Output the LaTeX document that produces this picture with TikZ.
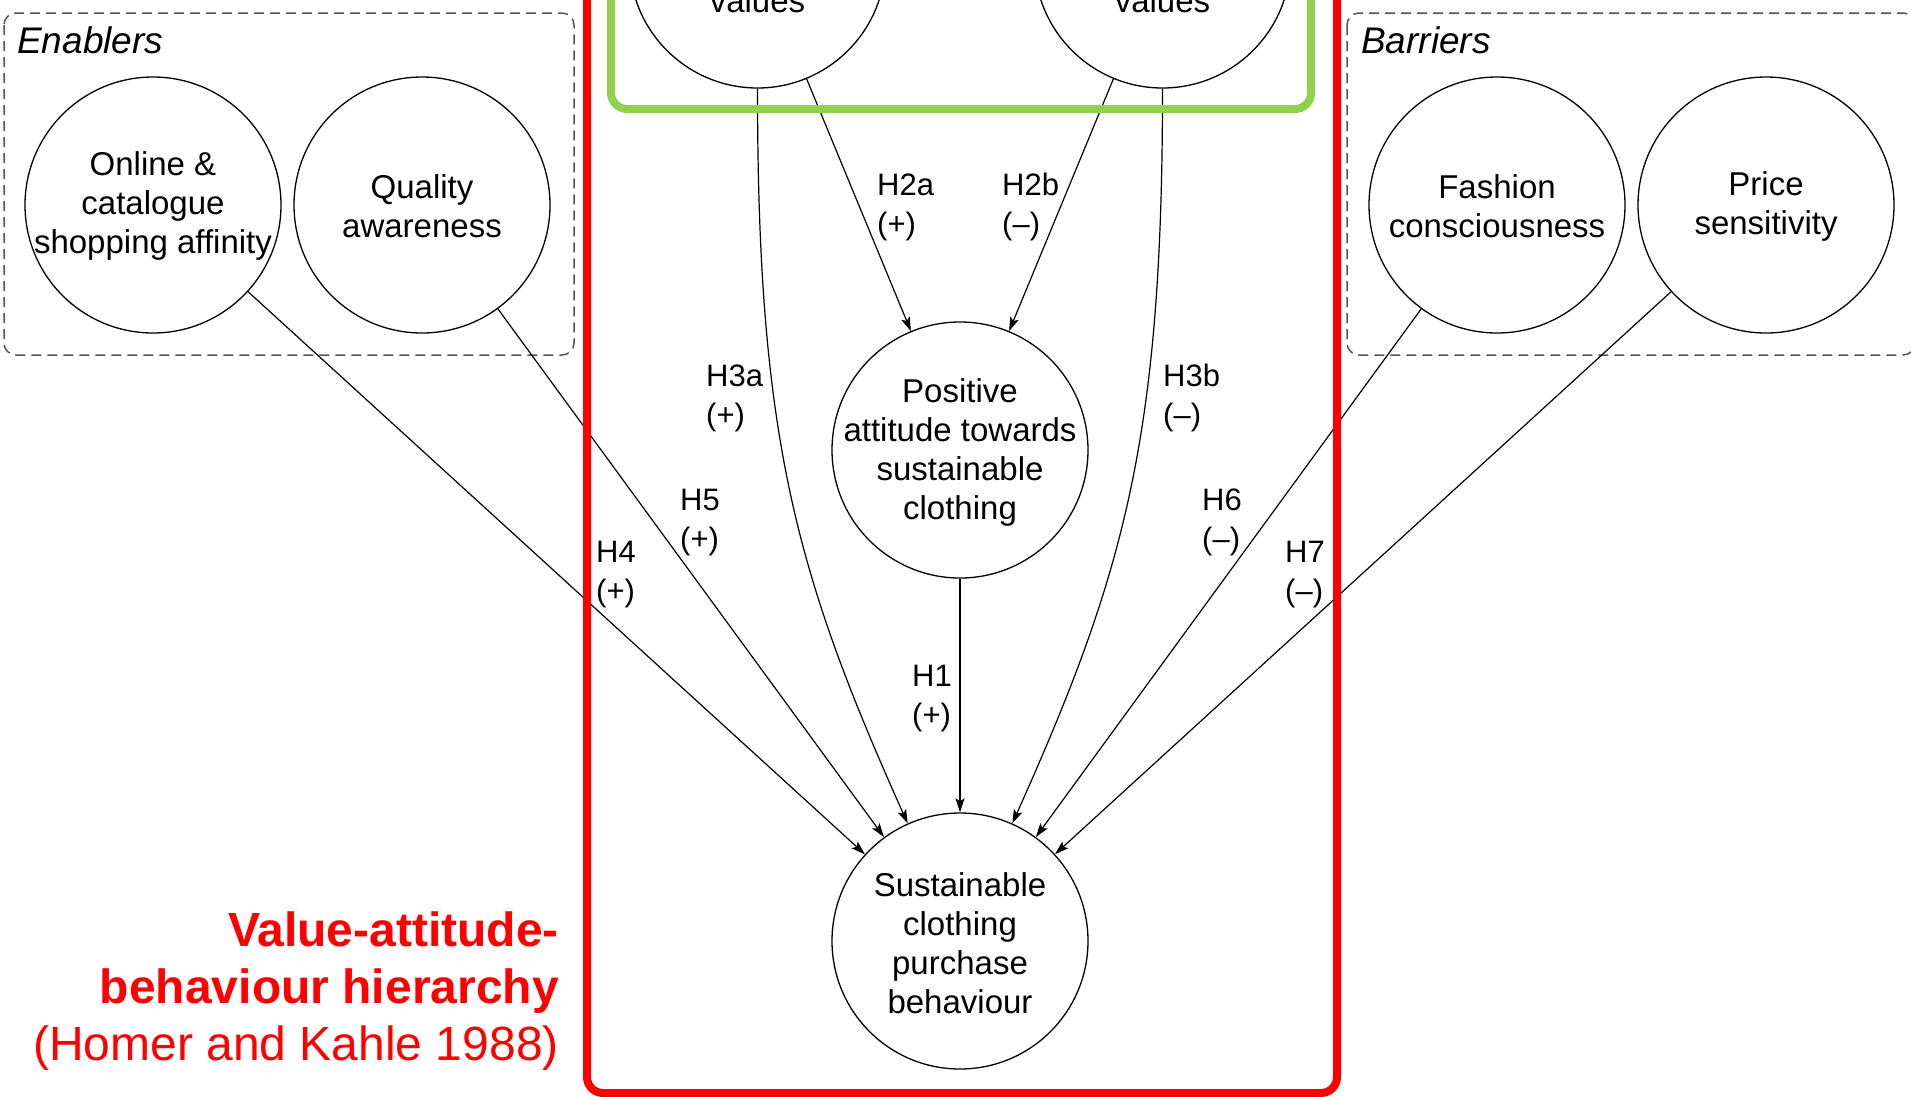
\documentclass[tikz,border=0pt]{standalone}
\usepackage{fontspec}
\setmainfont{Liberation Sans}
\usetikzlibrary{arrows.meta}
\definecolor{hierred}{HTML}{FF0000}
\definecolor{valgreen}{HTML}{92D050}
\definecolor{dashgray}{HTML}{555555}

\begin{document}
\begin{tikzpicture}[x=1pt,y=-1pt,
  construct/.style={circle, draw=black, line width=1.3pt, minimum size=256pt, inner sep=0pt},
  ctext/.style={inner sep=0pt, align=center, font=\fontsize{33}{39}\selectfont},
  hyp/.style={anchor=base west, inner sep=0pt, align=left, font=\fontsize{31}{39}\selectfont},
  link/.style={line width=1.2pt, -{Stealth[length=14pt,width=9pt,inset=3pt]}},
  groupbox/.style={draw=dashgray, line width=1.5pt, dash pattern=on 10pt off 6pt, rounded corners=12pt},
  grouptitle/.style={anchor=base west, inner sep=0pt, font=\fontsize{37}{44}\selectfont\itshape},
  redtxt/.style={anchor=base east, inner sep=0pt, text=hierred, font=\fontsize{48}{57}\selectfont}
]
\useasboundingbox (0,0) rectangle (1911,1096);
\clip (0,0) rectangle (1911,1096);

% enablers and barriers groups
\draw[groupbox] (4,13) rectangle (574,355);
\draw[groupbox] (1347,13) rectangle (1915,355);
\node[grouptitle] (enablers) at (17,53) {Enablers};
\node[grouptitle] (barriers) at (1361,53) {Barriers};

% constructs
\node[construct] (online)  at (153,205) {};
\node[construct] (quality) at (422,205) {};
\node[construct] (fashion) at (1497,205) {};
\node[construct] (price)   at (1766,205) {};
\node[construct] (tl)      at (757.5,-40) {};
\node[construct] (tr)      at (1162.5,-40) {};
\node[construct] (pos)     at (960,450) {};
\node[construct] (sust)    at (960,941) {};

\node[ctext] (online-t)  at (153,206) {Online \&\\catalogue\\shopping affinity};
\node[ctext] (quality-t) at (422,206) {Quality\\awareness};
\node[ctext] (fashion-t) at (1497,206) {Fashion\\consciousness};
\node[ctext] (price-t)   at (1766,206) {Price\\sensitivity};
\node[ctext, anchor=base] (tl-t) at (757.5,12) {values};
\node[ctext, anchor=base] (tr-t) at (1162.5,12) {values};
\node[ctext] (pos-t)  at (960,452) {Positive\\attitude towards\\sustainable\\clothing};
\node[ctext] (sust-t) at (960,943) {Sustainable\\clothing\\purchase\\behaviour};

% hypothesised paths
\draw[link] (tl) -- (pos);
\draw[link] (tr) -- (pos);
\draw[link] (pos) -- (sust);
\draw[link] (tl.south) .. controls +(0,350) and +(-112,-250) .. (sust.114);
\draw[link] (tr.south) .. controls +(0,350) and +(112,-250) .. (sust.66);
\draw[link] (online) -- (sust);
\draw[link] (quality) -- (sust);
\draw[link] (fashion) -- (sust);
\draw[link] (price) -- (sust);

% path labels (anchored at the baseline of the sign line)
\node[hyp] (h2a) at (877,234) {H2a\\(+)};
\node[hyp] (h2b) at (1002,234) {H2b\\(–)};
\node[hyp] (h3a) at (706,425) {H3a\\(+)};
\node[hyp] (h3b) at (1163,425) {H3b\\(–)};
\node[hyp] (h5) at (680,549) {H5\\(+)};
\node[hyp] (h4) at (596,601) {H4\\(+)};
\node[hyp] (h1) at (912,725) {H1\\(+)};
\node[hyp] (h6) at (1202,549) {H6\\(–)};
\node[hyp] (h7) at (1285,601) {H7\\(–)};

% value frame and hierarchy frame
\draw[valgreen, line width=8pt, rounded corners=16pt] (611,-30) rectangle (1311,109);
\draw[hierred, line width=8pt, rounded corners=16pt] (587,-30) rectangle (1337,1093);

\node[redtxt] (vab1) at (559,946) {\bfseries Value-attitude-};
\node[redtxt] (vab2) at (559,1003) {\bfseries behaviour hierarchy};
\node[redtxt] (vab3) at (559,1060) {(Homer and Kahle 1988)};
\end{tikzpicture}
\end{document}
